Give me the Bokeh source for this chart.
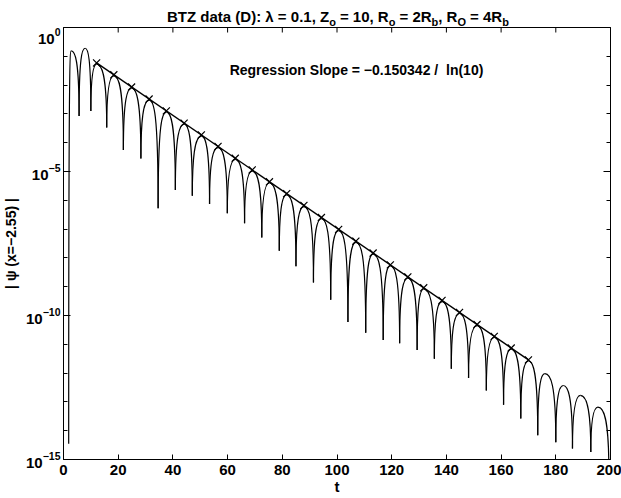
import math
from bokeh.plotting import figure
from bokeh.layouts import column
from bokeh.models import (FixedTicker, LogAxis, Label, ColumnDataSource,
                          Range1d, CustomJSTickFormatter, LogTickFormatter)
from bokeh.core.properties import value
from bokeh.embed import file_html
from bokeh.resources import INLINE

FONT = "Liberation Sans"

# ---- data ----
# cusps (minima) of |psi|: time and log10 value
dip_t = [1.9, 5.7, 10.0, 15.8, 21.9, 28.3, 34.6, 40.9, 47.1, 53.4, 59.9, 66.2,
         72.5, 78.9, 85.0, 91.4, 97.7, 104.0, 110.5, 116.9, 122.9, 129.3, 135.6,
         141.8, 148.1, 154.6, 160.9, 167.2, 173.4, 180.0, 186.1, 192.8, 199.4]
dip_log = [-14.45, -3.07, -2.90, -3.47, -4.25, -4.55, -6.28, -5.64, -5.84, -6.13,
           -6.45, -6.80, -7.29, -7.75, -8.29, -8.85, -9.45, -10.23, -10.60, -10.85,
           -10.96, -11.20, -11.50, -11.85, -12.17, -12.60, -13.10, -13.58, -14.16,
           -14.40, -14.62, -14.74, -15.40]
# maxima of |psi|: time and log10 value
peak_t = [2.8, 7.9, 12.1, 18.4, 24.9, 31.3, 37.6, 44.1, 50.4, 56.5, 62.8, 69.0,
          75.3, 81.6, 87.9, 94.3, 100.6, 106.9, 113.2, 119.5, 125.9, 131.7, 138.4,
          144.8, 151.2, 157.5, 163.7, 170.0, 176.0, 182.7, 189.0, 195.4]
peak_log = [-0.81, -0.72, -1.27, -1.68, -2.11, -2.52, -2.94, -3.36, -3.77, -4.17,
            -4.58, -4.99, -5.40, -5.81, -6.22, -6.64, -7.05, -7.46, -7.87, -8.28,
            -8.70, -9.08, -9.52, -9.93, -10.35, -10.76, -11.17, -11.58, -12.02,
            -12.43, -12.77, -13.18]
# maxima used in the regression (marked with x)
fit_t = peak_t[2:28]
slope = -0.150342          # per unit t, natural log
intercept_log10 = -0.44    # log10 |psi| of the fitted line at t = 0

x_ticks = [0, 20, 40, 60, 80, 100, 120, 140, 160, 180, 200]
y_major = [1e-15, 1e-10, 1e-5, 1.0]
y_minor = [1e-14, 1e-13, 1e-12, 1e-11, 1e-9, 1e-8, 1e-7, 1e-6,
           1e-4, 1e-3, 1e-2, 1e-1]

NB = "\u00a0"
# title: main parts, each followed by its subscript
title_main = ["BTZ data (D): λ = 0.1, Z", NB + "= 10, R", NB + "= 2R", ", R", NB + "= 4R"]
title_sub = ["o", "o", "b", "O", "b"]
annotation = "Regression Slope = −0.150342 /" + NB + " ln(10)"

# ---- geometry (pixels) ----
W, H = 621, 498
TH = 27                      # title strip height
FL, FR = 62, 610             # frame left / right on the page
FB = 39                      # space below the frame
frame_h = H - TH - FB

# ---- title strip (text with subscripts) ----
tf = figure(width=W, height=TH, x_range=Range1d(FL, FR), y_range=Range1d(0, TH),
            output_backend="svg", toolbar_location=None, title=None,
            min_border_left=FL, min_border_right=W - FR, min_border_top=0, min_border_bottom=0,
            x_axis_type=None, y_axis_type=None)
tf.grid.visible = False
tf.outline_line_color = None
tf.background_fill_color = "white"
tf.border_fill_color = "white"
# approximate advance widths (em) of Liberation Sans Bold, used to chain the pieces
main_em = [10.408, 3.530, 2.418, 1.278, 2.418]
sub_em = [0.611, 0.611, 0.611, 0.778, 0.611]
MS, SS = 15, 11
anchors = []
xpos = 172.0
for me, se in zip(main_em, sub_em):
    xpos += me * MS
    anchors.append(xpos)      # main part ends here, subscript starts here
    xpos += se * SS
tf.text(x=anchors, y=[TH - 16] * len(anchors), text=title_main, text_font_size=f"{MS}px",
        text_font=value(FONT), text_font_style="bold", text_color="black",
        text_align="right", text_baseline="alphabetic")
tf.text(x=anchors, y=[TH - 21] * len(anchors), text=title_sub, text_font_size=f"{SS}px",
        text_font=value(FONT), text_font_style="bold", text_color="black",
        text_align="left", text_baseline="alphabetic")

# ---- main figure ----
p = figure(width=W, height=H - TH, x_range=Range1d(0, 200), y_range=Range1d(1e-15, 1.0),
           y_axis_type="log", output_backend="svg", toolbar_location=None, title=None,
           min_border_left=FL, min_border_right=W - FR, min_border_top=0, min_border_bottom=FB)
p.grid.visible = False
p.outline_line_color = "black"
p.outline_line_width = 1
p.background_fill_color = "white"
p.border_fill_color = "white"

# curve: each half-arch between a cusp and a maximum is a Bezier glyph
c = dict(x0=[], y0=[], x1=[], y1=[], cx0=[], cy0=[], cx1=[], cy1=[])
for i in range(len(peak_t)):
    ta, tb, tp = dip_t[i], dip_t[i + 1], peak_t[i]
    ya, yb, yp = 10 ** dip_log[i], 10 ** dip_log[i + 1], 10 ** peak_log[i]
    shoulder = 10 ** (peak_log[i] - 0.3)
    # rising
    c["x0"].append(ta); c["y0"].append(ya)
    c["cx0"].append(ta); c["cy0"].append(shoulder)
    c["cx1"].append(ta + 0.5 * (tp - ta)); c["cy1"].append(yp)
    c["x1"].append(tp); c["y1"].append(yp)
    # falling
    c["x0"].append(tp); c["y0"].append(yp)
    c["cx0"].append(tp + 0.5 * (tb - tp)); c["cy0"].append(yp)
    c["cx1"].append(tb); c["cy1"].append(shoulder)
    c["x1"].append(tb); c["y1"].append(yb)
p.bezier(x0="x0", y0="y0", x1="x1", y1="y1", cx0="cx0", cy0="cy0", cx1="cx1", cy1="cy1",
         source=ColumnDataSource(c), line_color="black", line_width=1.2)

# regression line and marked maxima
def fit(t):
    return 10 ** (intercept_log10 + slope / math.log(10) * t)

p.line([fit_t[0], fit_t[-1]], [fit(fit_t[0]), fit(fit_t[-1])], line_color="black", line_width=1.4)
p.scatter(fit_t, [fit(t) for t in fit_t], marker="x", size=10, line_color="black", line_width=1.2)

# inward tick marks along the top edge (same ticks as the bottom axis)
decades = 15.0
tick_len_dec = 5.0 / (frame_h / decades)
p.segment(x0=x_ticks, y0=[1.0] * len(x_ticks), x1=x_ticks,
          y1=[10 ** (-tick_len_dec)] * len(x_ticks), line_color="black", line_width=1)

# ---- axes ----
def style(ax):
    ax.axis_line_color = "black"
    ax.axis_line_width = 1
    ax.major_tick_line_color = "black"
    ax.minor_tick_line_color = "black"
    ax.major_tick_out = 0
    ax.minor_tick_out = 0
    ax.major_label_text_font = FONT
    ax.major_label_text_font_size = "15px"
    ax.major_label_text_font_style = "bold"
    ax.major_label_text_color = "black"
    ax.axis_label_text_font = FONT
    ax.axis_label_text_font_style = "bold"
    ax.axis_label_text_color = "black"

xa = p.xaxis[0]
style(xa)
xa.ticker = FixedTicker(ticks=x_ticks)
xa.major_tick_in = 5
xa.minor_tick_in = 0
xa.major_label_standoff = 5
xa.axis_label = "t"
xa.axis_label_text_font_size = "15px"
xa.axis_label_standoff = 0

ya = p.yaxis[0]
style(ya)
ya.ticker = FixedTicker(ticks=y_major, minor_ticks=y_minor)
ya.formatter = LogTickFormatter()
ya.major_tick_in = 7
ya.minor_tick_in = 4
ya.major_label_standoff = 3
ya.axis_label = "| ψ (x=−2.55) |"
ya.axis_label_text_font_size = "14px"
ya.axis_label_standoff = 4

right = LogAxis(ticker=FixedTicker(ticks=y_major, minor_ticks=y_minor),
                formatter=CustomJSTickFormatter(code="return ''"))
style(right)
right.major_tick_in = 7
right.minor_tick_in = 4
right.major_label_standoff = 0
right.major_label_text_font_size = "0px"
p.add_layout(right, "right")

# ---- annotation ----
p.add_layout(Label(x=293, y=frame_h - 42, x_units="screen", y_units="screen",
                   text=annotation, text_align="center",
                   text_baseline="middle", text_font=FONT, text_font_size="14px",
                   text_font_style="bold", text_color="black"))

open("out.html", "w").write(file_html(column(tf, p, spacing=0), INLINE))
